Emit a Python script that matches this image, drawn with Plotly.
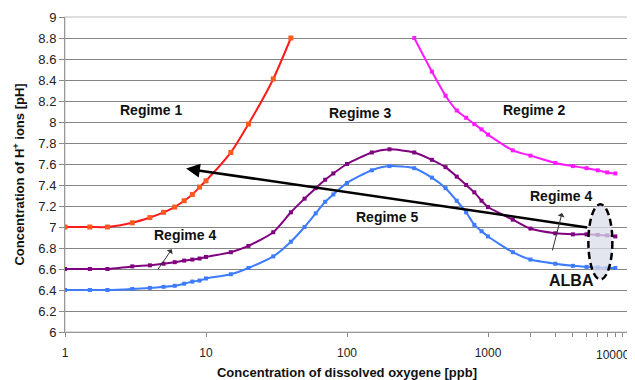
import plotly.graph_objects as go

# ---- data ----
x_regime1 = [1, 1.5, 2, 3, 4, 5, 6, 7, 8, 9, 10, 15, 20, 30, 40]
y_regime1 = [7.0, 7.0, 7.0, 7.04, 7.09, 7.14, 7.19, 7.25, 7.31, 7.38, 7.44, 7.71, 7.98, 8.41, 8.8]

x_regime2 = [300, 400, 500, 600, 700, 800, 900, 1000, 1500, 2000, 3000, 4000, 5000, 6000, 7000, 8000]
y_regime2 = [8.8, 8.48, 8.25, 8.11, 8.04, 7.98, 7.93, 7.88, 7.73, 7.68, 7.61, 7.58, 7.56, 7.54, 7.52, 7.51]

x_full = [1, 1.5, 2, 3, 4, 5, 6, 7, 8, 9, 10, 15, 20, 30, 40, 50, 60, 70, 80, 100,
          150, 200, 300, 400, 500, 600, 700, 800, 900, 1000, 1500, 2000, 3000, 4000,
          5000, 6000, 7000, 8000]
y_regime4 = [6.6, 6.6, 6.6, 6.625, 6.635, 6.65, 6.665, 6.68, 6.69, 6.7, 6.715, 6.76, 6.82,
             6.95, 7.14, 7.27, 7.37, 7.45, 7.51, 7.6, 7.71, 7.74, 7.71, 7.64, 7.57, 7.48,
             7.40, 7.33, 7.25, 7.19, 7.07, 6.985, 6.94, 6.93, 6.93, 6.925, 6.92, 6.91]
y_regime5 = [6.4, 6.4, 6.4, 6.41, 6.42, 6.43, 6.44, 6.46, 6.48, 6.49, 6.51, 6.55, 6.61,
             6.72, 6.86, 7.0, 7.13, 7.24, 7.31, 7.42, 7.54, 7.58, 7.56, 7.47, 7.37, 7.25,
             7.14, 7.02, 6.96, 6.91, 6.76, 6.69, 6.65, 6.63, 6.62, 6.615, 6.61, 6.61]

y_ticks = [6, 6.2, 6.4, 6.6, 6.8, 7, 7.2, 7.4, 7.6, 7.8, 8, 8.2, 8.4, 8.6, 8.8, 9]
y_ticktext = ["6", "6.2", "6.4", "6.6", "6.8", "7", "7.2", "7.4", "7.6", "7.8", "8",
              "8.2", "8.4", "8.6", "8.8", "9"]
x_ticks = [1, 10, 100, 1000, 2000, 3000, 4000, 5000, 6000, 7000, 8000, 9000, 10000]
x_ticktext = ["1", "10", "100", "1000", "", "", "", "", "", "", "", "", ""]

FONT = "Liberation Sans, Arial, sans-serif"

fig = go.Figure()

def add_series(x, y, line_color, marker_color, msize):
    fig.add_trace(go.Scatter(
        x=x, y=y, mode="lines+markers",
        line=dict(color=line_color, width=2, shape="spline", smoothing=0.6),
        marker=dict(symbol="square", size=msize, color=marker_color),
        showlegend=False, hoverinfo="skip"))

add_series(x_regime1, y_regime1, "#ff1a1a", "#ff5a1e", 5)
add_series(x_regime2, y_regime2, "#ff1aff", "#ff1aff", 4)
add_series(x_full, y_regime4, "#800080", "#800080", 4)
add_series(x_full, y_regime5, "#3d7bff", "#3d7bff", 4)

def label(text, lx, ly, size=14):
    fig.add_annotation(x=lx, y=ly, xref="x", yref="y", text="<b>%s</b>" % text,
                       showarrow=False, font=dict(family=FONT, size=size, color="#111"))

label("Regime 1", 0.61, 8.11)
label("Regime 3", 2.094, 8.09)
label("Regime 2", 3.329, 8.11)
label("Regime 4", 0.852, 6.92)
label("Regime 4", 3.518, 7.295)
label("Regime 5", 2.283, 7.10)
label("ALBA", 3.591, 6.49, size=16)

def arrow(x_head, y_head, x_tail, y_tail, width, head, size, color):
    fig.add_annotation(x=x_head, y=y_head, ax=x_tail, ay=y_tail,
                       xref="x", yref="y", axref="x", ayref="y", text="",
                       showarrow=True, arrowhead=head, arrowsize=size,
                       arrowwidth=width, arrowcolor=color, standoff=0)

arrow(0.859, 7.556, 3.714, 6.994, 2.5, 2, 1.1, "#000000")
arrow(0.757, 6.787, 0.651, 6.581, 1, 1, 1.2, "#333333")
arrow(3.525, 7.133, 3.454, 6.762, 1, 1, 1.2, "#333333")

# ALBA ellipse
fig.add_shape(type="circle", xref="x", yref="y", x0=5150, x1=7620, y0=6.50, y1=7.216,
              line=dict(color="#000000", width=2.5, dash="7px,4px"),
              fillcolor="rgba(218,222,234,0.75)", layer="above")

# last x tick label, kept inside the window
fig.add_annotation(x=1, y=0, xref="paper", yref="paper", text="10000", showarrow=False,
                   xanchor="right", yanchor="top", yshift=-14, xshift=3,
                   font=dict(family=FONT, size=12, color="#222"))

fig.update_xaxes(type="log", range=[0, 4], tickvals=x_ticks, ticktext=x_ticktext,
                 ticks="outside", ticklen=4, tickcolor="#888", showgrid=False,
                 showline=True, linecolor="#999", linewidth=1, mirror=False,
                 ticklabelstandoff=6, automargin=False,
                 tickfont=dict(family=FONT, size=12, color="#222"),
                 title=dict(text="<b>Concentration of dissolved oxygene [ppb]</b>",
                            font=dict(family=FONT, size=13, color="#111"), standoff=8),
                 zeroline=False)
fig.update_yaxes(range=[6, 9], tickvals=y_ticks, ticktext=y_ticktext,
                 ticks="outside", ticklen=5, tickcolor="#888",
                 showgrid=True, gridcolor="#858585", gridwidth=1,
                 showline=True, linecolor="#999", linewidth=1, automargin=False,
                 tickfont=dict(family=FONT, size=13, color="#222"),
                 title=dict(text="<b>Concentration of H<sup>+</sup> ions [pH]</b>",
                            font=dict(family=FONT, size=13, color="#111"), standoff=10),
                 zeroline=False)

# light frame top/right
fig.add_shape(type="rect", xref="paper", yref="paper", x0=0, x1=1, y0=0, y1=1,
              line=dict(color="#d4d4d4", width=1.5), layer="below")

# the page adds an 8px body margin, so the figure is 8px smaller than the window
fig.update_layout(width=627, height=372, autosize=False,
                  margin=dict(l=57, r=6, t=9, b=48),
                  plot_bgcolor="white", paper_bgcolor="white")

fig.write_html("out.html")
